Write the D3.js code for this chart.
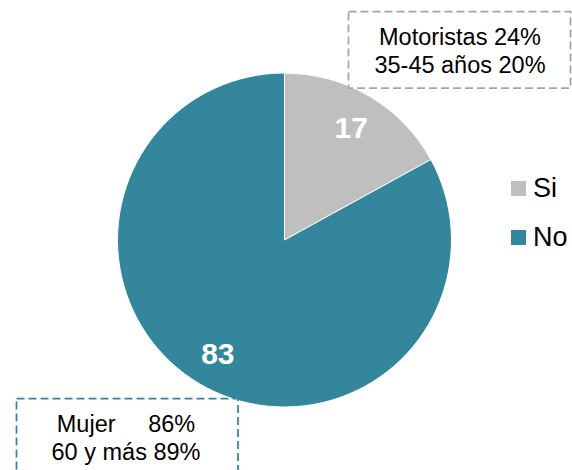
<!DOCTYPE html>
<html>
<head>
<meta charset="utf-8">
<script src="https://cdn.jsdelivr.net/npm/d3@7"></script>
<style>
    body { margin: 0; background: #fff; }
    text { font-family: "Liberation Sans", Arial, sans-serif; }
</style>
</head>
<body>
<svg id="pie-chart"></svg>
<script>
const categories = ['Si', 'No'];
const values = [17, 83];
const colors = ['#BFBFBF', '#33869C'];
const noteTop = ['Motoristas 24%', '35-45 años 20%'];
const noteBottom = ['Mujer     86%', '60 y más 89%'];

const width = 572, height = 470;
const cx = 284.5, cy = 240, radius = 167;

let svg = d3.select('#pie-chart')
    .attr('width', width)
    .attr('height', height);

let data = categories.map((c, i) => ({ name: c, value: values[i], color: colors[i] }));

let pie = d3.pie().sort(null).value(d => d.value);
let arc = d3.arc().innerRadius(0).outerRadius(radius);
let labelArc = d3.arc().innerRadius(131).outerRadius(131);

let g = svg.append('g')
    .attr('transform', 'translate(' + cx + ',' + cy + ')');

g.selectAll('path')
    .data(pie(data))
    .join('path')
    .attr('d', arc)
    .attr('fill', d => d.data.color)
    .attr('stroke', '#fff')
    .attr('stroke-width', 1);

g.selectAll('text.value')
    .data(pie(data))
    .join('text')
    .attr('class', 'value')
    .attr('transform', d => 'translate(' + labelArc.centroid(d) + ')')
    .attr('text-anchor', 'middle')
    .attr('dy', '0.36em')
    .attr('fill', '#fff')
    .style('font-size', '30px')
    .style('font-weight', 'bold')
    .text(d => d.data.value);

// legend
let legend = svg.append('g')
    .attr('transform', 'translate(511,181)');
let items = legend.selectAll('g')
    .data(data)
    .join('g')
    .attr('transform', (d, i) => 'translate(0,' + (i * 49) + ')');
items.append('rect')
    .attr('width', 15)
    .attr('height', 15)
    .attr('fill', d => d.color);
items.append('text')
    .attr('x', 22)
    .attr('y', 16)
    .style('font-size', '27px')
    .attr('fill', '#000')
    .text(d => d.name);

// dashed note boxes
function noteBox(x, y, w, h, stroke, lines, tx, ty) {
    svg.append('rect')
        .attr('x', x).attr('y', y)
        .attr('width', w).attr('height', h)
        .attr('fill', '#fff')
        .attr('stroke', stroke)
        .attr('stroke-width', 1.75)
        .attr('stroke-dasharray', '8,4');
    svg.append('text')
        .attr('text-anchor', 'middle')
        .style('font-size', '23.5px')
        .style('white-space', 'pre')
        .attr('fill', '#000')
        .selectAll('tspan')
        .data(lines)
        .join('tspan')
        .attr('x', tx)
        .attr('y', (d, i) => ty + i * 28.3)
        .text(d => d);
}
noteBox(348.5, 11.5, 222, 76.5, '#A6A6A6', noteTop, 460, 45);
noteBox(16.5, 398.5, 221.5, 90, '#33869C', noteBottom, 126, 431.7);
</script>
</body>
</html>
